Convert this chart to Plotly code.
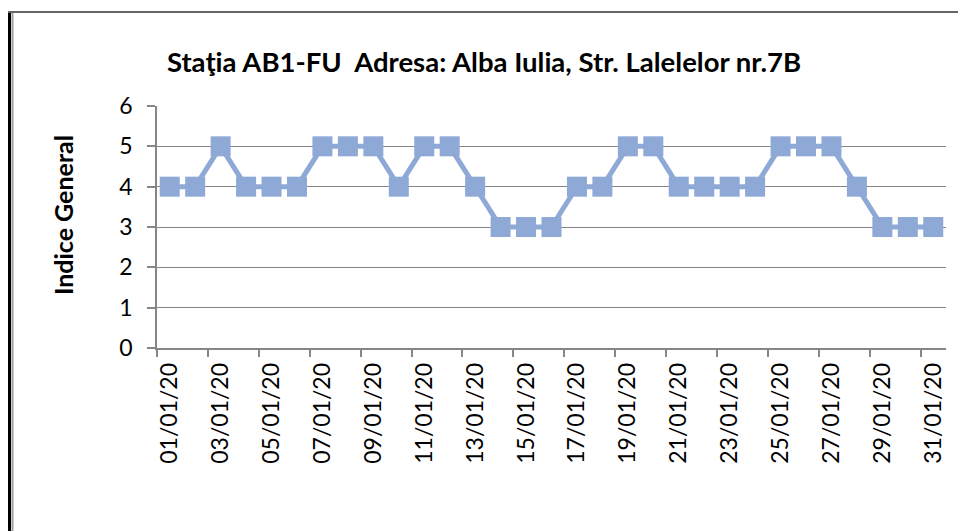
"""
Daily air-quality index for station AB1-FU (Alba Iulia), January 2020.
"""

import plotly.graph_objects as go

# Data
dates = [
    "01/01/20", "02/01/20", "03/01/20", "04/01/20", "05/01/20", "06/01/20",
    "07/01/20", "08/01/20", "09/01/20", "10/01/20", "11/01/20", "12/01/20",
    "13/01/20", "14/01/20", "15/01/20", "16/01/20", "17/01/20", "18/01/20",
    "19/01/20", "20/01/20", "21/01/20", "22/01/20", "23/01/20", "24/01/20",
    "25/01/20", "26/01/20", "27/01/20", "28/01/20", "29/01/20", "30/01/20",
    "31/01/20",
]
indice_general = [
    4, 4, 5, 4, 4, 4, 5, 5, 5, 4, 5, 5, 4, 3, 3, 3,
    4, 4, 5, 5, 4, 4, 4, 4, 5, 5, 5, 4, 3, 3, 3,
]
y_ticks = [0, 1, 2, 3, 4, 5, 6]

TITLE = "Staţia AB1-FU  Adresa: Alba Iulia, Str. Lalelelor nr.7B"
Y_TITLE = "Indice General"
FONT = "Lato, 'Open Sans', sans-serif"
SERIES_COLOR = "#8EA9D6"
GRID_COLOR = "#868686"

# page body has an 8px margin, so the plot box is placed 8px up/left
W, H = 966, 531
L, R, T, B = 149, 28, 98, 191
PW, PH = W - L - R, H - T - B


def px_x(x):
    return (x - L) / PW


def px_y(y):
    return 1 - (y - T) / PH


fig = go.Figure()

fig.add_trace(
    go.Scatter(
        x=dates,
        y=indice_general,
        mode="lines+markers",
        line=dict(color=SERIES_COLOR, width=5),
        marker=dict(symbol="square", size=20, color=SERIES_COLOR),
        showlegend=False,
    )
)

fig.update_layout(
    width=W,
    height=H,
    margin=dict(l=L, r=R, t=T, b=B),
    paper_bgcolor="white",
    plot_bgcolor="white",
    font=dict(family=FONT, color="black", size=23),
    title=dict(
        text=f"<b>{TITLE}</b>",
        x=px_x(476),
        xanchor="center",
        xref="paper",
        y=1 - 54 / H,
        yanchor="middle",
        font=dict(size=27.5, family=FONT, color="black"),
    ),
    xaxis=dict(
        type="category",
        categoryorder="array",
        categoryarray=dates,
        tickmode="linear",
        tick0=0,
        dtick=2,
        tickson="boundaries",
        ticks="outside",
        ticklen=7,
        tickwidth=1.5,
        tickcolor=GRID_COLOR,
        tickangle=-90,
        tickfont=dict(size=23),
        ticklabelstandoff=4,
        showgrid=False,
        showline=True,
        linecolor=GRID_COLOR,
        linewidth=1.5,
        zeroline=False,
        range=[-0.5, len(dates) - 0.5],
    ),
    yaxis=dict(
        range=[0, 6],
        tickvals=y_ticks,
        ticks="outside",
        ticklen=8,
        tickwidth=1.5,
        tickcolor=GRID_COLOR,
        tickfont=dict(size=23),
        ticklabelstandoff=10,
        showgrid=True,
        gridcolor=GRID_COLOR,
        gridwidth=1.2,
        showline=True,
        linecolor=GRID_COLOR,
        linewidth=1.5,
        zeroline=False,
    ),
)

# y-axis title placed as an annotation
fig.add_annotation(
    text=f"<b>{Y_TITLE}</b>",
    xref="paper", yref="paper",
    x=px_x(55), y=px_y(207),
    xanchor="center", yanchor="middle",
    textangle=-90,
    showarrow=False,
    font=dict(size=25, family=FONT, color="black"),
)

# Chart frame: heavy black left edge, grey inner edge, grey top edge
fig.add_shape(type="line", xref="paper", yref="paper",
              x0=px_x(1.5), x1=px_x(1.5), y0=px_y(H), y1=px_y(4),
              line=dict(color="black", width=3))
fig.add_shape(type="line", xref="paper", yref="paper",
              x0=px_x(4.5), x1=px_x(4.5), y0=px_y(H), y1=px_y(4),
              line=dict(color="#a0a0a0", width=2))
fig.add_shape(type="line", xref="paper", yref="paper",
              x0=px_x(0), x1=px_x(W), y0=px_y(4), y1=px_y(4),
              line=dict(color="#666666", width=2))

fig.write_html("out.html")
